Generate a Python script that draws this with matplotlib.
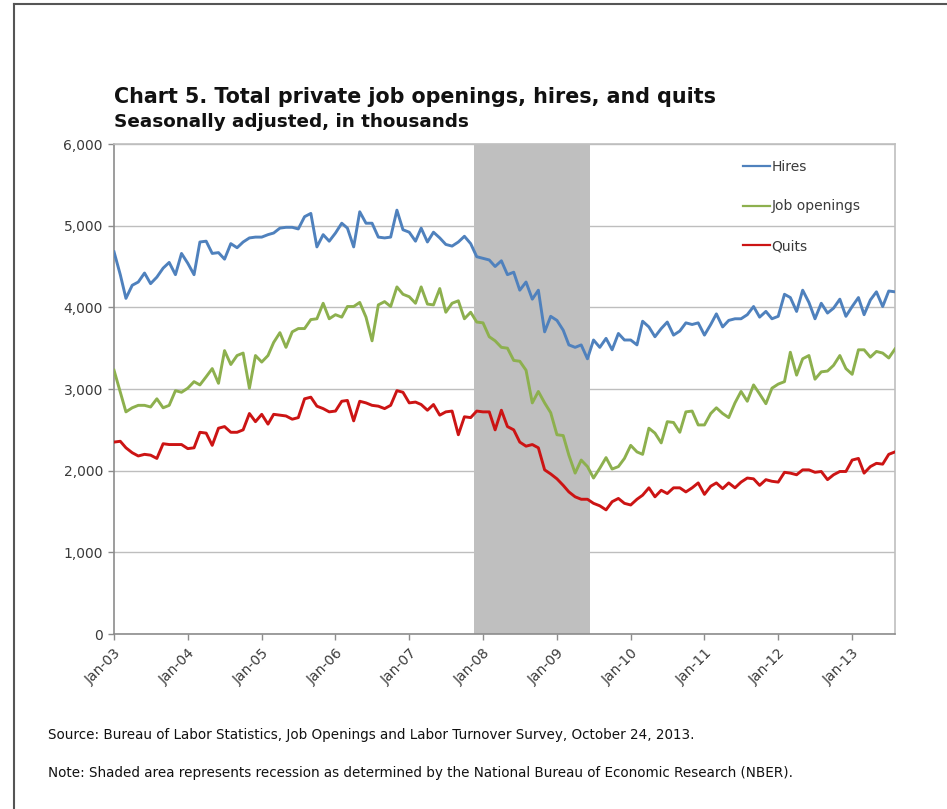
import numpy as np
import pandas as pd
import matplotlib
matplotlib.use("Agg")
import matplotlib.pyplot as plt
import matplotlib.dates as mdates
from matplotlib.ticker import FuncFormatter

# monthly, Jan 2003 - Aug 2013, thousands
months = pd.date_range("2003-01-01", periods=128, freq="MS")

hires = [4680, 4400, 4110, 4270, 4310, 4420, 4290, 4370, 4480, 4550, 4400, 4660,
         4540, 4400, 4800, 4810, 4660, 4670, 4590, 4780, 4730, 4800, 4850, 4860,
         4860, 4890, 4910, 4970, 4980, 4980, 4960, 5110,
         5150, 4740, 4890, 4810, 4910, 5030, 4970, 4740, 5170, 5030, 5030, 4860,
         4850, 4860, 5190, 4950, 4920, 4810, 4970, 4800, 4920, 4850, 4770, 4750,
         4800, 4870, 4780, 4620, 4600,
         4580, 4500, 4570, 4400, 4430, 4210, 4310, 4100, 4210, 3700, 3890, 3840,
         3720, 3540, 3510, 3540, 3370, 3600, 3510, 3620, 3480, 3680, 3600, 3600,
         3540, 3830, 3760, 3640, 3740, 3820, 3660, 3710, 3810,
         3790, 3810, 3660, 3790, 3920, 3760, 3840, 3860, 3860, 3910, 4010, 3880,
         3950, 3860, 3890, 4160, 4120, 3950, 4210, 4060, 3860, 4050, 3930, 3990,
         4100, 3890, 4010, 4120, 3910, 4090, 4190, 4010, 4200, 4190]

job_openings = [3230, 2960, 2720, 2770, 2800, 2800, 2780, 2880, 2770, 2800, 2980, 2960,
                3010, 3090, 3050, 3150, 3250, 3070, 3470, 3300, 3410, 3440, 3010, 3410,
                3330, 3410, 3570, 3690, 3510, 3700, 3740, 3740,
                3850, 3860, 4050, 3860, 3910, 3880, 4010, 4010, 4060, 3880, 3590, 4030,
                4070, 4010, 4250, 4160, 4130, 4050, 4250, 4040, 4030, 4230, 3940, 4050,
                4080, 3860, 3940, 3820, 3810,
                3640, 3590, 3510, 3500, 3350, 3340, 3230, 2830, 2970, 2830, 2710, 2440,
                2430, 2190, 1970, 2130, 2050, 1910, 2030, 2160, 2020, 2050, 2150, 2310,
                2230, 2200, 2520, 2460, 2340, 2600, 2590, 2470, 2720,
                2730, 2560, 2560, 2700, 2770, 2700, 2650, 2830, 2970, 2850, 3050, 2940,
                2820, 3010, 3060, 3090, 3450, 3170, 3370, 3410, 3120, 3210, 3220, 3290,
                3410, 3250, 3180, 3480, 3480, 3390, 3460, 3440, 3380, 3490]

quits = [2350, 2360, 2280, 2220, 2180, 2200, 2190, 2150, 2330, 2320, 2320, 2320,
         2270, 2280, 2470, 2460, 2310, 2520, 2540, 2470, 2470, 2500, 2700, 2600,
         2690, 2570, 2690, 2680, 2670, 2630, 2650, 2880,
         2900, 2790, 2760, 2720, 2730, 2850, 2860, 2610, 2850, 2830, 2800, 2790,
         2760, 2800, 2980, 2960, 2830, 2840, 2810, 2740, 2810, 2680, 2720, 2730,
         2440, 2660, 2650, 2730, 2720,
         2720, 2500, 2740, 2540, 2500, 2350, 2300, 2320, 2280, 2010, 1960, 1900,
         1820, 1740, 1680, 1650, 1650, 1600, 1570, 1520, 1620, 1660, 1600, 1580,
         1650, 1700, 1790, 1680, 1760, 1720, 1790, 1790, 1740,
         1790, 1850, 1710, 1810, 1850, 1780, 1850, 1790, 1860, 1910, 1900, 1820,
         1890, 1870, 1860, 1980, 1970, 1950, 2010, 2010, 1980, 1990, 1890, 1950,
         1990, 1990, 2130, 2150, 1970, 2050, 2090, 2080, 2200, 2230]

series_names = ["Hires", "Job openings", "Quits"]
series_colors = ["#4F81BD", "#8DB04E", "#CC1414"]

# NBER recession, Dec 2007 - Jun 2009
rec_start = pd.Timestamp("2007-12-01")
rec_end = pd.Timestamp("2009-06-01")

fig = plt.figure(figsize=(9.47, 8.09), dpi=100)

# outer frame
fig.add_artist(plt.Line2D([0.0148, 0.0148], [0, 0.995], transform=fig.transFigure,
                          color="#555555", lw=1.5))
fig.add_artist(plt.Line2D([0.0148, 1.0], [0.995, 0.995], transform=fig.transFigure,
                          color="#555555", lw=1.5))

ax = fig.add_axes([0.1204, 0.2163, 0.8247, 0.6057])

half = pd.Timedelta(days=15)
ax.axvspan(rec_start - half, rec_end + half, color="#BFBFBF", lw=0, zorder=1)

for vals, name, c in zip([hires, job_openings, quits], series_names, series_colors):
    ax.plot(months, vals, color=c, lw=2.1, label=name, zorder=3)

ax.set_ylim(0, 6000)
ax.set_yticks(np.arange(0, 6001, 1000))
ax.yaxis.set_major_formatter(FuncFormatter(lambda v, p: f"{int(v):,}"))
ax.grid(axis="y", color="#BEBEBE", lw=1.0, zorder=0)
ax.set_axisbelow(True)

ax.set_xlim(months[0], months[-1])
ax.xaxis.set_major_locator(mdates.YearLocator(1, month=1, day=1))
ax.xaxis.set_major_formatter(mdates.DateFormatter("%b-%y"))
for lbl in ax.get_xticklabels():
    lbl.set_rotation(45)
    lbl.set_ha("right")
    lbl.set_rotation_mode("anchor")

ax.tick_params(axis="both", labelsize=10, colors="#8C8C8C", labelcolor="#3A3A3A",
               length=4.5, width=1)
ax.tick_params(axis="x", pad=4)

for side in ["top", "right"]:
    ax.spines[side].set_color("#BFBFBF")
for side in ["left", "bottom"]:
    ax.spines[side].set_color("#8C8C8C")
for s in ax.spines.values():
    s.set_linewidth(1.2)

leg = ax.legend(loc="upper left", bbox_to_anchor=(0.805, 0.968), frameon=False,
                fontsize=10, handlelength=1.95, handletextpad=0.1, labelspacing=1.85,
                borderpad=0, borderaxespad=0, labelcolor="#3A3A3A")
for ln in leg.get_lines():
    ln.set_linewidth(1.6)

fig.text(0.1204, 0.873, "Chart 5. Total private job openings, hires, and quits",
         fontsize=14.9, fontweight="bold", color="#111111")
fig.text(0.1204, 0.843, "Seasonally adjusted, in thousands",
         fontsize=13.2, fontweight="bold", color="#111111")

fig.text(0.0507, 0.086,
         "Source: Bureau of Labor Statistics, Job Openings and Labor Turnover Survey, October 24, 2013.",
         fontsize=9.75, color="#111111")
fig.text(0.0507, 0.039,
         "Note: Shaded area represents recession as determined by the National Bureau of Economic Research (NBER).",
         fontsize=9.75, color="#111111")

fig.savefig("out.png", dpi=100)
